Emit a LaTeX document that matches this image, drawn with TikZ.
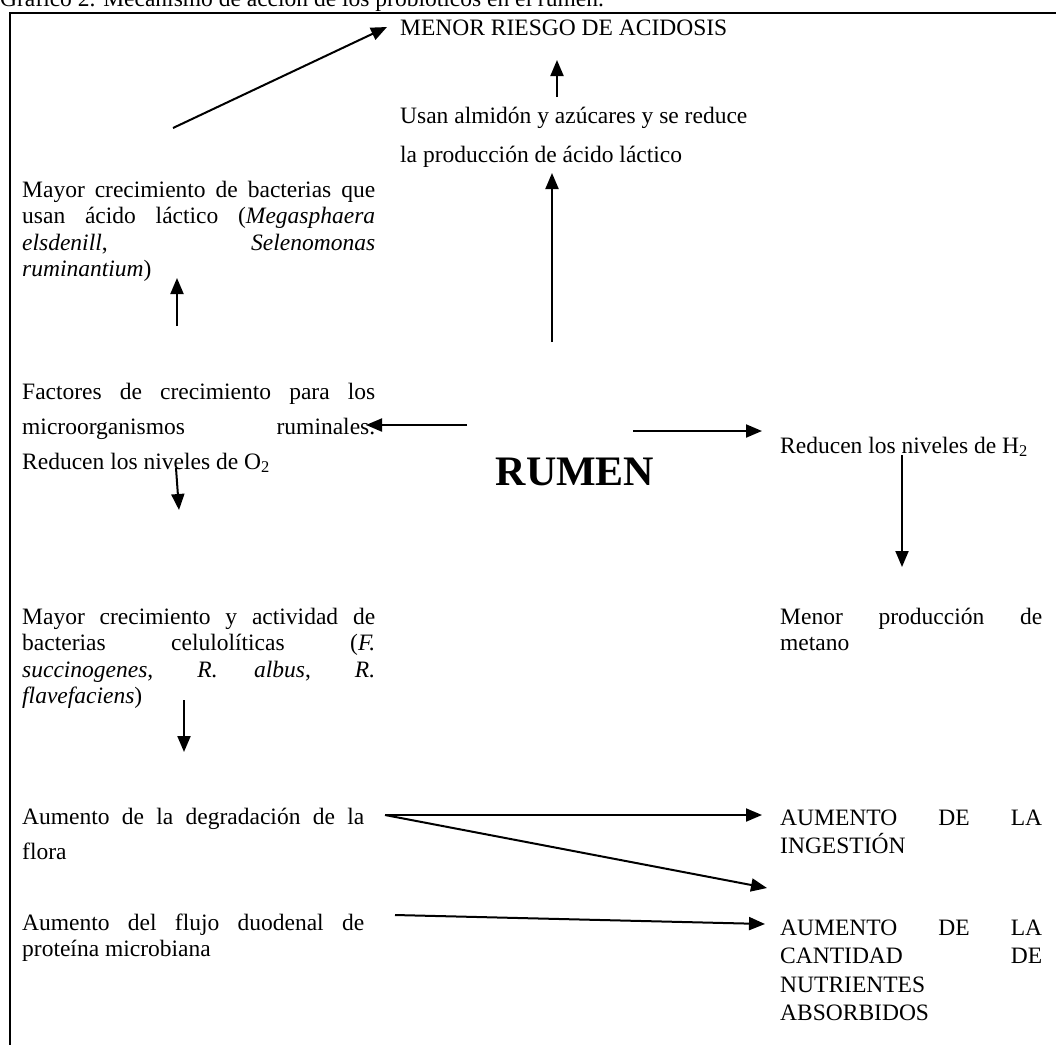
\documentclass[tikz,border=0pt]{standalone}
\usepackage{fontspec}
\setmainfont{Liberation Serif}
\usetikzlibrary{arrows.meta}
\newcommand\bodyfont{\fontsize{23.5}{26.5}\selectfont}
\newcommand\widefont{\fontsize{23.5}{35}\selectfont}
\newcommand\xwidefont{\fontsize{23.5}{39}\selectfont}
\newcommand\capsfont{\fontsize{23.5}{28.5}\selectfont}
\tikzset{
  txt/.style={inner sep=0pt, anchor=base west, font=\bodyfont},
  colL/.style={txt, text width=353pt, align=justify},
  colR/.style={txt, text width=262pt, align=justify},
  arr/.style={line width=2pt, -{Triangle[length=16pt,width=13pt]}},
  frame/.style={line width=2pt}
}
\begin{document}
\begin{tikzpicture}[x=1pt,y=-1pt]
\useasboundingbox (0,0) rectangle (1056,1044);
% title (partly cut at top)
\node[txt] (title) at (0,6) {Gráfico 2. Mecanismo de acción de los probióticos en el rumen.};
% frame
\draw[frame] (10,1050) -- (10,13) -- (1060,13);

% nodes
\node[txt] (acid) at (400,35) {MENOR RIESGO DE ACIDOSIS};
\node[txt, font=\xwidefont, align=left] (usan) at (400,162) {Usan almidón y azúcares y se reduce\\la producción de ácido láctico};
\node[colL] (lact) at (22,197) {Mayor crecimiento de bacterias que \linebreak usan ácido láctico (\textit{Megasphaera} \linebreak \textit{elsdenill}, \textit{Selenomonas} \linebreak \textit{ruminantium})};
\node[colL, font=\widefont] (fact) at (22,399) {Factores de crecimiento para los \linebreak microorganismos ruminales. \linebreak Reducen los niveles de O\textsubscript{2}};
\node[inner sep=0pt, font=\fontsize{42}{48}\selectfont\bfseries] (rumen) at (575,472) {RUMEN};
\node[txt] (htwo) at (780,453) {Reducen los niveles de H\textsubscript{2}};
\node[colR] (metano) at (780,624) {Menor producción de \linebreak metano};
\node[colL] (celu) at (22,624) {Mayor crecimiento y actividad de \linebreak bacterias celulolíticas (\textit{F.} \linebreak \textit{succinogenes}, \textit{R. albus}, \textit{R.} \linebreak \textit{flavefaciens})};
\node[colL, text width=342pt, font=\widefont] (flora) at (22,824) {Aumento de la degradación de la \linebreak flora};
\node[colR, font=\capsfont] (ingest) at (780,825) {AUMENTO DE LA \linebreak INGESTIÓN};
\node[colL, text width=342pt] (flujo) at (22,930) {Aumento del flujo duodenal de \linebreak proteína microbiana};
\node[colR, font=\capsfont] (nutri) at (780,935) {AUMENTO DE LA \linebreak CANTIDAD DE \linebreak NUTRIENTES \newline ABSORBIDOS};

% connector end points
\coordinate (a1s) at (173,128); \coordinate (a1e) at (387,27);
\coordinate (a2s) at (557,97);  \coordinate (a2e) at (557,60);
\coordinate (a3s) at (552,342); \coordinate (a3e) at (552,173);
\coordinate (a4s) at (177,326); \coordinate (a4e) at (177,278);
\coordinate (a5s) at (467,425); \coordinate (a5e) at (366,425);
\coordinate (a6s) at (176,468); \coordinate (a6e) at (179,510);
\coordinate (a7s) at (633,431); \coordinate (a7e) at (762,431);
\coordinate (a8s) at (902,455); \coordinate (a8e) at (902,567);
\coordinate (a9s) at (184,700); \coordinate (a9e) at (184,752);
\coordinate (a10s) at (385,815); \coordinate (a10e) at (762,815);
\coordinate (a11e) at (767,888);
\coordinate (a12s) at (395,915); \coordinate (a12e) at (765,924);

\draw[arr] (a1s) -- (a1e);
\draw[arr] (a2s) -- (a2e);
\draw[arr] (a3s) -- (a3e);
\draw[arr] (a4s) -- (a4e);
\draw[arr] (a5s) -- (a5e);
\draw[arr] (a6s) -- (a6e);
\draw[arr] (a7s) -- (a7e);
\draw[arr] (a8s) -- (a8e);
\draw[arr] (a9s) -- (a9e);
\draw[arr] (a10s) -- (a10e);
\draw[arr] (a10s) -- (a11e);
\draw[arr] (a12s) -- (a12e);
\end{tikzpicture}
\end{document}
